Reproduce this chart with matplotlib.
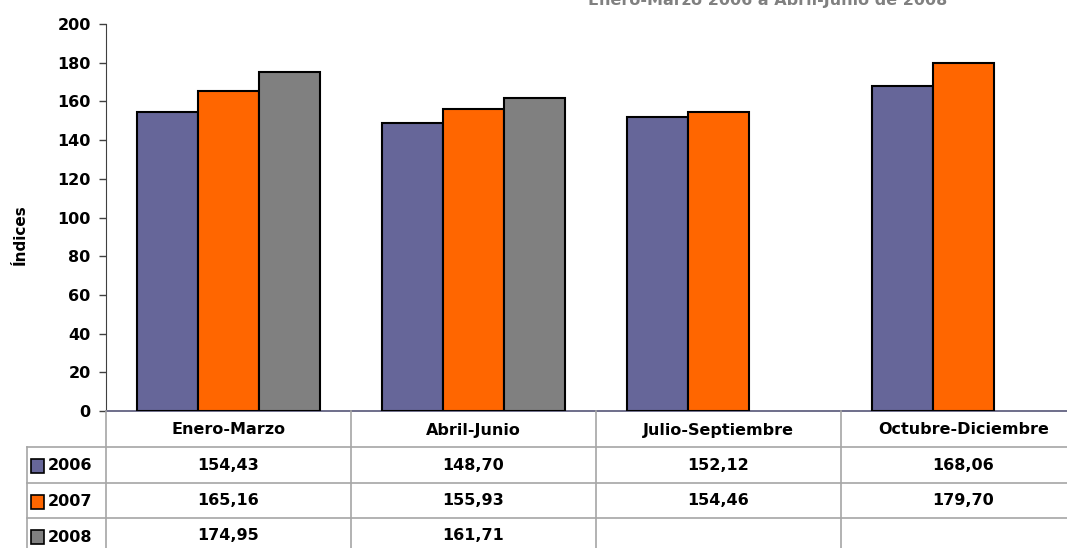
import matplotlib.pyplot as plt
from matplotlib.lines import Line2D
from matplotlib.patches import Rectangle
import numpy as np

# datos
trimestres = ['Enero-Marzo', 'Abril-Junio', 'Julio-Septiembre', 'Octubre-Diciembre']
anios = ['2006', '2007', '2008']
v2006 = [154.43, 148.70, 152.12, 168.06]
v2007 = [165.16, 155.93, 154.46, 179.70]
v2008 = [174.95, 161.71, None, None]
colores = ['#666699', '#FF6600', '#808080']
titulo = 'Enero-Marzo 2006 a Abril-Junio de 2008'

plt.rcParams['font.family'] = ['DejaVu Sans']
plt.rcParams['font.weight'] = 'bold'

W, H = 1067, 548
fig = plt.figure(figsize=(W / 100, H / 100), dpi=100)
fig.set_facecolor('white')

def fx(px):
    return px / W

def fy(py):
    return 1 - py / H

# ejes: izq 106px, arriba 24px, abajo 411px, ancho de columna 245px
col_w = 245
ax = fig.add_axes([fx(106), fy(411), fx(4 * col_w), fy(24) - fy(411)])

x = np.arange(len(trimestres))
ancho = 0.25
series = [v2006, v2007, v2008]
for i, serie in enumerate(series):
    xs = [x[j] + (i - 1) * ancho for j in range(len(serie)) if serie[j] is not None]
    ys = [v for v in serie if v is not None]
    ax.bar(xs, ys, width=ancho, color=colores[i], edgecolor='black', linewidth=1.5, zorder=3)

ax.set_xlim(-0.5, 3.5)
ax.set_ylim(0, 200)
ax.set_yticks(range(0, 201, 20))
ax.set_xticks([])
ax.tick_params(axis='y', labelsize=11.5, length=5, color='#404040', width=1, pad=6)
for lab in ax.get_yticklabels():
    lab.set_fontweight('bold')
for s in ['top', 'right']:
    ax.spines[s].set_visible(False)
ax.spines['left'].set_color('#404040')
ax.spines['bottom'].set_color('#555577')
ax.spines['bottom'].set_linewidth(1.2)
fig.text(fx(20), fy(235), 'Índices', rotation=90, ha='center', va='center', fontsize=11, fontweight='bold')

# titulo cortado arriba
fig.text(fx(768), fy(5), titulo, ha='center', va='baseline', fontsize=11.5, fontweight='bold', color='#808080')

# tabla de datos
gris = '#a6a6a6'
filas_y = [411, 447, 483, 518, 554]
x_der = 106 + 4 * col_w

def linea(x0, y0, x1, y1):
    fig.add_artist(Line2D([fx(x0), fx(x1)], [fy(y0), fy(y1)], color=gris, linewidth=1.2))

for yy in filas_y[1:]:
    linea(27, yy, x_der, yy)
linea(27, 447, 27, 560)
for k in range(5):
    linea(106 + k * col_w, 411, 106 + k * col_w, 560)

for k, t in enumerate(trimestres):
    cx = 106 + k * col_w + col_w / 2
    fig.text(fx(cx), fy(430), t, ha='center', va='center', fontsize=11.5, fontweight='bold')

for i, serie in enumerate(series):
    cy = (filas_y[i + 1] + filas_y[i + 2]) / 2
    fig.add_artist(Rectangle((fx(31), fy(cy + 8)), fx(13), fy(cy - 6) - fy(cy + 8),
                             facecolor=colores[i], edgecolor='black', linewidth=1.2,
                             transform=fig.transFigure))
    fig.text(fx(48), fy(cy + 1), anios[i], ha='left', va='center', fontsize=11.5, fontweight='bold')
    for k, v in enumerate(serie):
        if v is None:
            continue
        cx = 106 + k * col_w + col_w / 2
        txt = f'{v:.2f}'.replace('.', ',')
        fig.text(fx(cx), fy(cy), txt, ha='center', va='center', fontsize=11.5, fontweight='bold')

fig.savefig('out.png', dpi=100)
